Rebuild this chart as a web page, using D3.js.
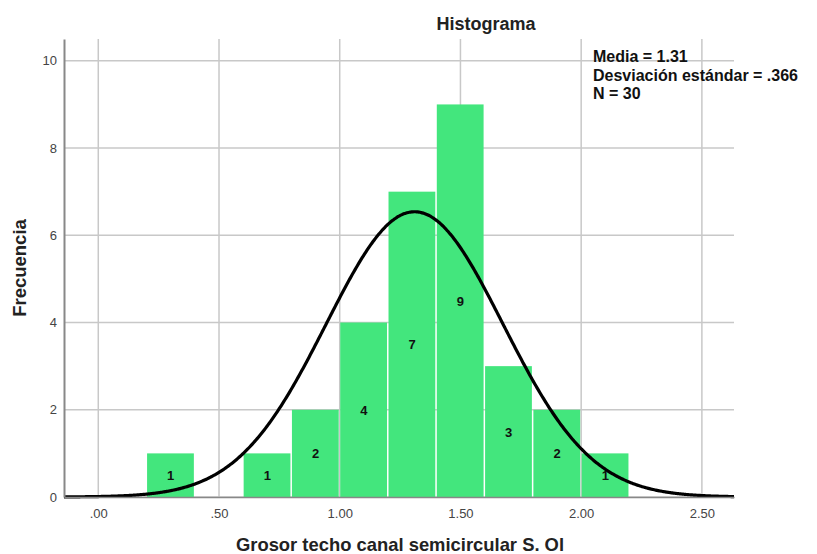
<!DOCTYPE html>
<html lang="es">
<head>
<meta charset="UTF-8">
<title>Histograma</title>
<script src="https://cdn.jsdelivr.net/npm/d3@7/dist/d3.min.js"></script>
<style>
    body { margin: 0; background: #fff; }
    text { font-family: "Liberation Sans", Arial, sans-serif; }
    .grid line { stroke: #c8c8c8; stroke-width: 1.5px; }
    .tick text { fill: #444; font-size: 13px; }
</style>
</head>
<body>
<div id="chart"></div>
<script>
    // bins (lower edge, upper edge) and counts
    const binStart = [0.2, 0.6, 0.8, 1.0, 1.2, 1.4, 1.6, 1.8, 2.0];
    const binEnd = [0.4, 0.8, 1.0, 1.2, 1.4, 1.6, 1.8, 2.0, 2.2];
    const counts = [1, 1, 2, 4, 7, 9, 3, 2, 1];
    const xTicks = [0, 0.5, 1, 1.5, 2, 2.5];
    const xTickLabels = ['.00', '.50', '1.00', '1.50', '2.00', '2.50'];
    const yTicks = [0, 2, 4, 6, 8, 10];
    const statLines = ['Media = 1.31', 'Desviación estándar = .366', 'N = 30'];
    const mean = 1.31, sd = 0.366, n = 30, binWidth = 0.2;

    const W = 817, H = 554;
    const margin = { top: 39, right: 83, bottom: 57, left: 64 };
    const w = W - margin.left - margin.right,
        h = H - margin.top - margin.bottom;

    const svg = d3.select('#chart').append('svg')
        .attr('width', W)
        .attr('height', H);
    const g = svg.append('g')
        .attr('transform', `translate(${margin.left},${margin.top})`);

    const x = d3.scaleLinear().domain([-0.142, 2.633]).range([0, w]);
    const y = d3.scaleLinear().domain([0, 10.5]).range([h, 0]);

    // grid
    const grid = g.append('g').attr('class', 'grid');
    grid.selectAll('.vg').data(xTicks).enter().append('line')
        .attr('x1', d => x(d)).attr('x2', d => x(d))
        .attr('y1', 0).attr('y2', h);
    grid.selectAll('.hg').data(yTicks).enter().append('line')
        .attr('x1', 0).attr('x2', w)
        .attr('y1', d => y(d)).attr('y2', d => y(d));

    // bars
    const bins = counts.map((c, i) => ({ x0: binStart[i], x1: binEnd[i], c }));
    g.selectAll('.bar').data(bins).enter().append('rect')
        .attr('class', 'bar')
        .attr('x', d => x(d.x0) + 0.5)
        .attr('width', d => x(d.x1) - x(d.x0) - 1.5)
        .attr('y', d => y(d.c))
        .attr('height', d => y(0) - y(d.c))
        .attr('fill', '#43e67d');

    g.selectAll('.lbl').data(bins).enter().append('text')
        .attr('x', d => (x(d.x0) + x(d.x1)) / 2)
        .attr('y', d => (y(d.c) + y(0)) / 2 + 5)
        .attr('text-anchor', 'middle')
        .attr('font-size', 13)
        .attr('font-weight', 'bold')
        .attr('fill', '#111')
        .text(d => d.c);

    // normal curve
    const xs = d3.range(-0.142, 2.6331, 0.005);
    const k = n * binWidth / (sd * Math.sqrt(2 * Math.PI));
    const line = d3.line()
        .x(d => x(d))
        .y(d => y(k * Math.exp(-0.5 * Math.pow((d - mean) / sd, 2))))
        .curve(d3.curveBasis);
    g.append('path')
        .datum(xs)
        .attr('d', line)
        .attr('fill', 'none')
        .attr('stroke', '#000')
        .attr('stroke-width', 3.2);

    // axes
    const xAxis = d3.axisBottom(x).tickValues(xTicks)
        .tickFormat((d, i) => xTickLabels[i]).tickSize(0).tickPadding(12);
    const xg = g.append('g').attr('transform', `translate(0,${h})`).call(xAxis);
    xg.select('.domain').attr('stroke', '#888').attr('stroke-width', 1.5);

    const yAxis = d3.axisLeft(y).tickValues(yTicks).tickSize(0).tickPadding(7);
    const yg = g.append('g').call(yAxis);
    yg.select('.domain').attr('stroke', '#888').attr('stroke-width', 2);

    // titles
    svg.append('text')
        .attr('x', 486).attr('y', 30)
        .attr('text-anchor', 'middle')
        .attr('font-size', 18).attr('font-weight', 'bold')
        .attr('fill', '#222')
        .text('Histograma');

    svg.append('text')
        .attr('x', 400).attr('y', 551)
        .attr('text-anchor', 'middle')
        .attr('font-size', 18.4).attr('font-weight', 'bold')
        .attr('fill', '#222')
        .text('Grosor techo canal semicircular S. Ol');

    svg.append('text')
        .attr('transform', 'translate(26,268) rotate(-90)')
        .attr('text-anchor', 'middle')
        .attr('font-size', 18.5).attr('font-weight', 'bold')
        .attr('fill', '#222')
        .text('Frecuencia');

    svg.selectAll('.stat').data(statLines).enter().append('text')
        .attr('x', 593)
        .attr('y', (d, i) => 62 + i * 18.5)
        .attr('font-size', 16).attr('font-weight', 'bold')
        .attr('fill', '#111')
        .text(d => d);
</script>
</body>
</html>
